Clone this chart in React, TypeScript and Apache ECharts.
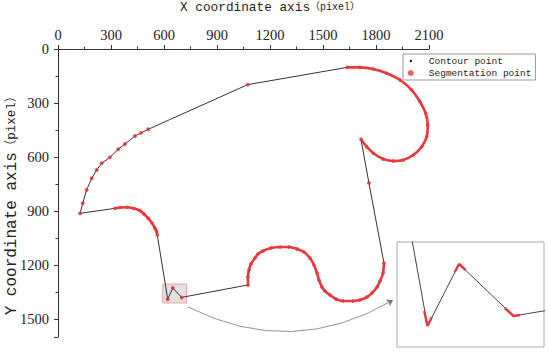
import React, { useEffect, useRef } from 'react';
import * as echarts from 'echarts';

// ---- data (image coordinates, pixels) ----
const X_MIN = 0;
const X_MAX = 2100;
const X_INTERVAL = 300;
const Y_MIN = 0;
const Y_MAX = 1600;
const Y_INTERVAL = 300;

const contourPoints: [number, number][] = [
  [125, 913], [140, 857], [162, 783], [191, 718], [219, 672], [247, 635], [294, 602], [341, 557], [379, 528], [436, 483], [511, 446],
  [1074, 198],
  [1637, 102], [1709, 102], [1785, 111], [1860, 135], [1936, 172], [2002, 228], [2049, 293], [2081, 357], [2093, 422], [2087, 487],
  [2059, 543], [2011, 589], [1954, 617], [1898, 622], [1841, 611], [1785, 579], [1747, 543], [1715, 502],
  [1760, 744],
  [1845, 1189], [1840, 1244], [1823, 1289], [1806, 1322], [1777, 1356], [1749, 1378], [1709, 1394], [1670, 1400], [1613, 1400],
  [1573, 1389], [1540, 1367], [1511, 1345], [1494, 1322], [1477, 1283], [1466, 1244], [1449, 1200], [1426, 1161], [1392, 1128],
  [1353, 1111], [1307, 1100], [1257, 1100], [1206, 1106], [1160, 1122], [1132, 1139], [1115, 1161], [1092, 1194], [1081, 1228],
  [1075, 1267], [1075, 1311],
  [700, 1380], [650, 1328], [621, 1390],
  [562, 1033], [557, 1011], [549, 996], [532, 967], [511, 941], [487, 917], [464, 898], [430, 886], [389, 879], [351, 881], [323, 885],
  [125, 913],
];

// segmentation points
const segUpperLeft: [number, number][] = [
  [125, 913], [140, 857], [162, 783], [191, 718], [219, 672], [247, 635], [294, 602], [341, 557], [379, 528], [436, 483], [470, 466], [511, 446],
];
const segSingles: [number, number][] = [
  [1074, 198], [1760, 744], [700, 1380], [650, 1328], [621, 1390],
];
const segSpiral: [number, number][] = [
  [1637, 102], [1709, 102], [1785, 111], [1860, 135], [1936, 172], [2002, 228], [2049, 293], [2081, 357], [2093, 422], [2087, 487],
  [2059, 543], [2011, 589], [1954, 617], [1898, 622], [1841, 611], [1785, 579], [1747, 543], [1715, 502],
];
const segWave: [number, number][] = [
  [1845, 1189], [1840, 1244], [1823, 1289], [1806, 1322], [1777, 1356], [1749, 1378], [1709, 1394], [1670, 1400], [1613, 1400],
  [1573, 1389], [1540, 1367], [1511, 1345], [1494, 1322], [1477, 1283], [1466, 1244], [1449, 1200], [1426, 1161], [1392, 1128],
  [1353, 1111], [1307, 1100], [1257, 1100], [1206, 1106], [1160, 1122], [1132, 1139], [1115, 1161], [1092, 1194], [1081, 1228],
  [1075, 1267], [1075, 1311],
];
const segBump: [number, number][] = [
  [562, 1033], [557, 1011], [549, 996], [532, 967], [511, 941], [487, 917], [464, 898], [430, 886], [389, 879], [351, 881], [323, 885],
];

// zoomed detail (inset)
const zoomBoxX: [number, number] = [593, 728];
const zoomBoxY: [number, number] = [1306, 1411];
const insetSegLow: [number, number][] = [[618, 1375], [621, 1390], [625, 1381]];
const insetSegPeak: [number, number][] = [[646, 1336], [650, 1328], [656, 1334]];
const insetSegRight: [number, number][] = [[692, 1372], [700, 1380], [706, 1379]];

// arrow from box to inset
const arrowFrom: [number, number] = [736, 1433];
const arrowTo: [number, number] = [1896, 1395];

const RED = '#e8393c';
const AXIS = '#333';

const arcSeries = (data: [number, number][]) => ({
  name: 'Segmentation point',
  type: 'line',
  xAxisIndex: 0,
  yAxisIndex: 0,
  data,
  smooth: 0.3,
  symbol: 'circle',
  symbolSize: 3.5,
  showSymbol: true,
  lineStyle: { color: RED, width: 2.6 },
  itemStyle: { color: RED },
  z: 4,
});

const insetSeg = (data: [number, number][]) => ({
  name: 'Segmentation point',
  type: 'line',
  xAxisIndex: 1,
  yAxisIndex: 1,
  data,
  symbol: 'none',
  lineStyle: { color: RED, width: 2.4 },
  itemStyle: { color: RED },
  z: 4,
});

const plain = (v: number) => String(v);

export default function App() {
  const ref = useRef<HTMLDivElement>(null);
  useEffect(() => {
    const chart = echarts.init(ref.current!, null, { renderer: 'svg' });
    const option: any = {
      animation: false,
      backgroundColor: '#fff',
      legend: {
        left: 403,
        top: 54,
        orient: 'vertical',
        padding: [2, 4, 2, 3],
        itemGap: 2,
        itemWidth: 18,
        itemHeight: 6,
        borderColor: '#999',
        borderWidth: 1,
        backgroundColor: '#fff',
        textStyle: { fontFamily: 'Liberation Mono', fontSize: 9.5, color: '#222', padding: [0, 0, 0, 4] },
        data: [
          { name: 'Contour point', icon: 'circle', itemStyle: { color: '#000', borderColor: '#fff', borderWidth: 3.6 } },
          { name: 'Segmentation point', icon: 'circle', itemStyle: { color: RED, borderWidth: 0 } },
        ],
      },
      grid: [
        { left: 58, top: 49, width: 371, height: 288, show: false, outerBoundsMode: 'none', containLabel: false },
        { left: 397, top: 242, width: 147, height: 105, show: true, borderColor: '#aaa', borderWidth: 1, backgroundColor: '#fff', z: 10, outerBoundsMode: 'none', containLabel: false },
      ],
      xAxis: [
        {
          type: 'value', gridIndex: 0, position: 'top', min: X_MIN, max: X_MAX, interval: X_INTERVAL,
          name: '{a|X coordinate axis}{b|（pixel）}',
          nameLocation: 'middle', nameGap: 35, nameMoveOverlap: false,
          nameTextStyle: {
            padding: [0, 0, 0, 53],
            rich: {
              a: { fontFamily: 'Liberation Mono', fontSize: 12.75, color: '#222' },
              b: { fontFamily: "'Liberation Mono', 'Noto Sans CJK SC'", fontSize: 10, color: '#222' },
            },
          },
          axisLine: { show: true, onZero: false, lineStyle: { color: AXIS, width: 1 } },
          axisTick: { show: true, inside: false, length: 4, lineStyle: { color: AXIS } },
          minorTick: { show: true, splitNumber: 2, length: 2.5, lineStyle: { color: AXIS } },
          axisLabel: { margin: 7, fontFamily: 'Liberation Serif', fontSize: 14.5, color: '#222', formatter: plain },
          splitLine: { show: false },
        },
        { type: 'value', gridIndex: 1, min: zoomBoxX[0], max: zoomBoxX[1], show: false, splitLine: { show: false } },
      ],
      yAxis: [
        {
          type: 'value', gridIndex: 0, inverse: true, min: Y_MIN, max: Y_MAX, interval: Y_INTERVAL,
          name: '{a|Y coordinate axis}{b|（pixel）}',
          nameLocation: 'middle', nameGap: 38, nameMoveOverlap: false,
          nameTextStyle: {
            padding: [0, 19, 0, 0],
            rich: {
              a: { fontFamily: 'Liberation Mono', fontSize: 16, color: '#222' },
              b: { fontFamily: "'Liberation Mono', 'Noto Sans CJK SC'", fontSize: 12.5, color: '#222' },
            },
          },
          axisLine: { show: true, onZero: false, lineStyle: { color: AXIS, width: 1 } },
          axisTick: { show: true, inside: false, length: 4, lineStyle: { color: AXIS } },
          minorTick: { show: true, splitNumber: 2, length: 2.5, lineStyle: { color: AXIS } },
          axisLabel: { margin: 9, fontFamily: 'Liberation Serif', fontSize: 14.5, color: '#222', showMaxLabel: false, formatter: plain },
          splitLine: { show: false },
        },
        { type: 'value', gridIndex: 1, inverse: true, min: zoomBoxY[0], max: zoomBoxY[1], show: false, splitLine: { show: false } },
      ],
      series: [
        {
          name: 'Contour point',
          type: 'line',
          xAxisIndex: 0,
          yAxisIndex: 0,
          data: contourPoints,
          symbol: 'circle',
          symbolSize: 1.6,
          showSymbol: true,
          lineStyle: { color: '#333', width: 1 },
          itemStyle: { color: '#000' },
          z: 3,
          markArea: {
            silent: true,
            itemStyle: { color: 'rgba(205,205,205,0.6)', borderColor: '#f2a0a0', borderWidth: 1 },
            data: [[{ coord: [zoomBoxX[0], zoomBoxY[0]] }, { coord: [zoomBoxX[1], zoomBoxY[1]] }]],
          },
        },
        {
          name: 'Segmentation point',
          type: 'scatter',
          xAxisIndex: 0,
          yAxisIndex: 0,
          data: segUpperLeft,
          symbolSize: 4,
          itemStyle: { color: RED },
          z: 4,
        },
        {
          name: 'Segmentation point',
          type: 'scatter',
          xAxisIndex: 0,
          yAxisIndex: 0,
          data: segSingles,
          symbolSize: 4,
          itemStyle: { color: RED },
          z: 4,
        },
        arcSeries(segSpiral),
        arcSeries(segWave),
        arcSeries(segBump),
        {
          type: 'lines',
          coordinateSystem: 'cartesian2d',
          xAxisIndex: 0,
          yAxisIndex: 0,
          symbol: ['none', 'arrow'],
          symbolSize: 6,
          lineStyle: { color: '#777', width: 0.8, curveness: -0.273, opacity: 1 },
          data: [{ coords: [arrowFrom, arrowTo] }],
          z: 5,
        },
        {
          name: 'Contour point',
          type: 'line',
          xAxisIndex: 1,
          yAxisIndex: 1,
          data: contourPoints,
          symbol: 'none',
          clip: true,
          lineStyle: { color: '#444', width: 1 },
          itemStyle: { color: '#000' },
          z: 11,
        },
        { ...insetSeg(insetSegLow), z: 12 },
        { ...insetSeg(insetSegPeak), z: 12 },
        { ...insetSeg(insetSegRight), z: 12 },
      ],
    };
    chart.setOption(option);
    return () => chart.dispose();
  }, []);
  return <div ref={ref} style={{ position: 'fixed', left: 0, top: 0, width: 550, height: 352, background: '#fff' }} />;
}
